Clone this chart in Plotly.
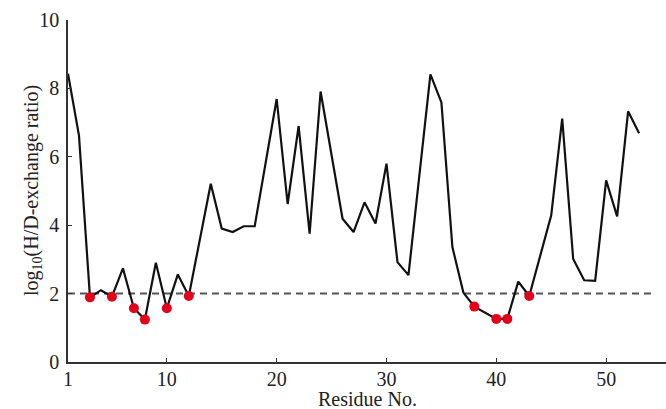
import plotly.graph_objects as go

residues = [1, 2, 3, 4, 5, 6, 7, 8, 9, 10, 11, 12, 14, 15, 16, 17, 18, 20, 21, 22,
            23, 24, 26, 27, 28, 29, 30, 31, 32, 34, 35, 36, 37, 38, 40, 41, 42, 43,
            45, 46, 47, 48, 49, 50, 51, 52, 53]
log_ratio = [8.43, 6.62, 1.89, 2.10, 1.91, 2.74, 1.57, 1.24, 2.90, 1.57, 2.56, 1.93,
             5.21, 3.90, 3.80, 3.97, 3.97, 7.69, 4.62, 6.90,
             3.75, 7.91, 4.19, 3.80, 4.67, 4.05, 5.80, 2.92, 2.54, 8.41, 7.59, 3.36,
             2.03, 1.62, 1.26, 1.26, 2.35, 1.93,
             4.29, 7.12, 3.01, 2.39, 2.37, 5.31, 4.26, 7.33, 6.69]
marked_residues = [3, 5, 7, 8, 10, 12, 38, 40, 41, 43]
threshold = 2
threshold_span = [1, 54.2]
x_ticks = [1, 10, 20, 30, 40, 50]
y_ticks = [0, 2, 4, 6, 8, 10]

lookup = dict(zip(residues, log_ratio))
marked_values = [lookup[r] for r in marked_residues]

font = "Liberation Serif, Times New Roman, serif"

fig = go.Figure()
fig.add_trace(go.Scatter(
    x=threshold_span, y=[threshold, threshold], mode="lines",
    line=dict(color="#555555", width=2, dash="7px,5px"),
    hoverinfo="skip", showlegend=False))
fig.add_trace(go.Scatter(
    x=residues, y=log_ratio, mode="lines",
    line=dict(color="#111111", width=2.2),
    showlegend=False))
fig.add_trace(go.Scatter(
    x=marked_residues, y=marked_values, mode="markers",
    marker=dict(color="#e3001b", size=10, line=dict(width=0)),
    showlegend=False))

fig.update_layout(
    width=666, height=409,
    margin=dict(l=68, r=0, t=20, b=47),
    paper_bgcolor="white", plot_bgcolor="white",
    font=dict(family=font, size=20, color="#222222"),
    xaxis=dict(
        range=[1, 55.45], tickvals=x_ticks, ticks="inside", ticklen=4,
        tickwidth=1.2, tickcolor="#333333", ticklabelstandoff=-2,
        showline=True, linecolor="#333333", linewidth=1.5,
        showgrid=False, zeroline=False,
    ),
    yaxis=dict(
        range=[0, 10], tickvals=y_ticks, ticks="inside", ticklen=4,
        tickwidth=1.2, tickcolor="#333333", ticklabelstandoff=3,
        showline=True, linecolor="#333333", linewidth=1.5,
        showgrid=False, zeroline=False,
    ),
    annotations=[
        dict(text="Residue No.", xref="paper", yref="paper", x=0.5, y=0,
             xanchor="center", yanchor="top", yshift=-25, borderpad=0,
             showarrow=False, font=dict(size=20)),
        dict(text="log<sub>10</sub>(H/D-exchange ratio)", xref="paper", yref="paper",
             x=0, y=0.5, xanchor="center", yanchor="middle", xshift=-36,
             textangle=-90, showarrow=False, font=dict(size=20)),
    ],
)

fig.write_html("out.html", config={"displayModeBar": False},
               post_script="document.body.style.margin='0';")
